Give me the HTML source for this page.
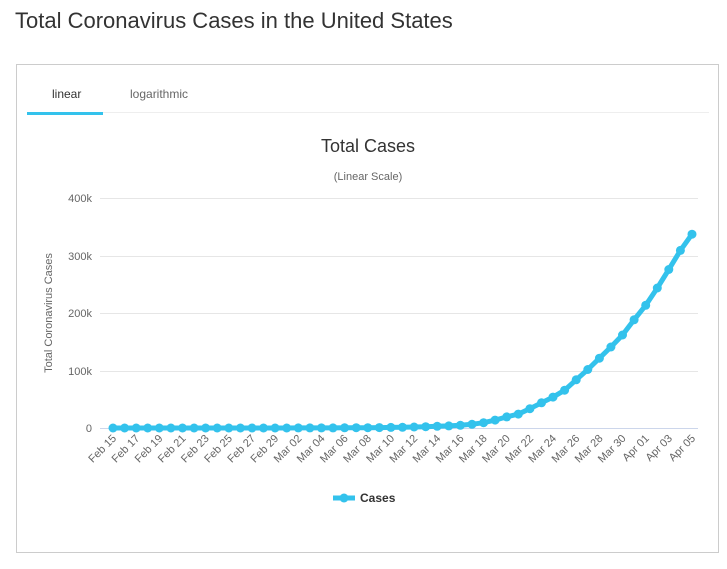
<!DOCTYPE html>
<html><head><meta charset="utf-8"><style>
body{margin:0;background:#fff;width:727px;height:564px;overflow:hidden;font-family:"Liberation Sans",sans-serif}
</style></head><body>
<svg id="s" width="727" height="564" xmlns="http://www.w3.org/2000/svg" font-family="Liberation Sans, sans-serif">
<text x="15" y="28" font-size="22" fill="#333">Total Coronavirus Cases in the United States</text>
<rect x="16.5" y="64.5" width="702" height="488" fill="#fff" stroke="#ccc"/>
<line x1="27" y1="112.5" x2="709" y2="112.5" stroke="#eee"/>
<rect x="27" y="112" width="76" height="3" fill="#33c2ec"/>
<text x="52" y="98" font-size="12" fill="#333">linear</text>
<text x="130" y="98" font-size="12" fill="#666">logarithmic</text>
<text x="368" y="152" font-size="18" fill="#333" text-anchor="middle">Total Cases</text>
<text x="368" y="180" font-size="11" fill="#666" text-anchor="middle">(Linear Scale)</text>
<g stroke="#e6e6e6"><line x1="100" y1="198.5" x2="698" y2="198.5"/><line x1="100" y1="256.5" x2="698" y2="256.5"/><line x1="100" y1="313.5" x2="698" y2="313.5"/><line x1="100" y1="371.5" x2="698" y2="371.5"/></g>
<line x1="100" y1="428.5" x2="698" y2="428.5" stroke="#ccd6eb"/>
<g font-size="11" fill="#666" text-anchor="end"><text x="92" y="202">400k</text><text x="92" y="260">300k</text><text x="92" y="317">200k</text><text x="92" y="375">100k</text><text x="92" y="432">0</text></g>
<text transform="translate(52,313) rotate(-90)" font-size="11" fill="#666" text-anchor="middle">Total Coronavirus Cases</text>
<g id="g"></g>
<path d="M333 498h22" stroke="#33c2ec" stroke-width="5"/><circle cx="344" cy="498" r="4.5" fill="#33c2ec"/>
<text x="360" y="502" font-size="12" font-weight="bold" fill="#333">Cases</text>
</svg>
<script>
var d=[15,15,15,15,15,15,15,15,15,15,15,57,60,60,68,75,100,124,158,221,319,435,541,704,994,1301,1697,2247,2943,3680,4663,6411,9259,13789,19383,24207,33566,43847,53740,65778,83836,101657,121478,140886,161807,188172,213372,243453,275586,308850,337072];
var labels=[];for(var i=15;i<=29;i++)labels.push('Feb '+i);for(i=1;i<=31;i++)labels.push('Mar '+(i<10?'0':'')+i);for(i=1;i<=5;i++)labels.push('Apr 0'+i);
var g=document.getElementById('g'),pts=[],h='';
for(i=0;i<51;i++){var x=113+i*11.58,y=428-d[i]*0.000575;pts.push(x.toFixed(1)+','+y.toFixed(1));
h+='<circle cx="'+x.toFixed(1)+'" cy="'+y.toFixed(1)+'" r="4.5" fill="#33c2ec"/>';
if(i%2==0)h+='<text font-size="11" fill="#666" text-anchor="end" transform="translate('+(x+4).toFixed(1)+',439) rotate(-45)">'+labels[i]+'</text>';}
g.innerHTML='<polyline points="'+pts.join(' ')+'" fill="none" stroke="#33c2ec" stroke-width="5" stroke-linejoin="round"/>'+h;
</script>
</body></html>
